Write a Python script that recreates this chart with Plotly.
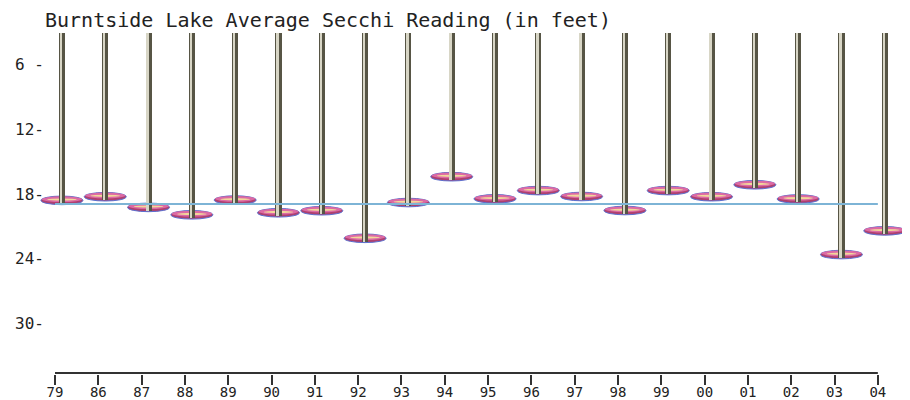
import plotly.graph_objects as go

# ---- data ----
years = ["79", "86", "87", "88", "89", "90", "91", "92", "93", "94",
         "95", "96", "97", "98", "99", "00", "01", "02", "03", "04"]
secchi_ft = [18.58, 18.24, 19.23, 19.92, 18.55, 19.73, 19.54, 22.10, 18.78, 16.38,
             18.44, 17.67, 18.22, 19.52, 17.67, 18.24, 17.13, 18.45, 23.61, 21.41]
average_ft = 18.92
y_tickvals = [6, 12, 18, 24, 30]
y_ticktext = ["6 -", "12-", "18-", "24-", "30-"]

# ---- styling constants ----
FONT = "DejaVu Sans Mono"
TICK_SHIFT = 0.16      # ticks sit a little left of the poles
DISC_HW = 0.485        # disc half width (category units)
DISC_HH = 0.40         # disc half height (feet)
X_START = -0.599
X_END = 19.49
Y_TOP = 3.04
Y_BOTTOM = 34.70
AXIS_Y = 34.61

idx = list(range(len(years)))

fig = go.Figure()

# poles (dark body + light highlight)
pole_len = [v + DISC_HH * 0.8 for v in secchi_ft]
fig.add_trace(go.Bar(x=idx, y=pole_len, base=0, width=0.14,
                     marker=dict(color="#575545", line=dict(width=0)),
                     hoverinfo="skip", showlegend=False))
fig.add_trace(go.Bar(x=idx, y=pole_len, base=0, width=0.045, offset=-0.04,
                     marker=dict(color="#d8d6c6", line=dict(width=0)),
                     hoverinfo="skip", showlegend=False))

# x axis baseline from first to last tick
fig.add_trace(go.Scatter(x=[idx[0] - TICK_SHIFT, idx[-1] - TICK_SHIFT],
                         y=[AXIS_Y, AXIS_Y], mode="lines",
                         line=dict(color="#333333", width=2),
                         hoverinfo="skip", showlegend=False))

shapes = []
for i, v in zip(idx, secchi_ft):
    # disc body
    shapes.append(dict(type="circle", xref="x", yref="y", layer="below",
                       x0=i - DISC_HW, x1=i + DISC_HW, y0=v - DISC_HH, y1=v + DISC_HH,
                       fillcolor="#b0406f", line=dict(color="#5a70d0", width=1)))
    # pink upper part
    shapes.append(dict(type="circle", xref="x", yref="y", layer="below",
                       x0=i - DISC_HW * 0.96, x1=i + DISC_HW * 0.96,
                       y0=v - DISC_HH * 0.95, y1=v + DISC_HH * 0.4,
                       fillcolor="#dc6aa4", line=dict(width=0)))
    # yellow highlight band
    shapes.append(dict(type="circle", xref="x", yref="y", layer="below",
                       x0=i - DISC_HW * 0.7, x1=i + DISC_HW * 0.7,
                       y0=v - DISC_HH * 0.45, y1=v + DISC_HH * 0.05,
                       fillcolor="#f2d79a", line=dict(width=0)))

# average line
shapes.append(dict(type="line", xref="x", yref="y", layer="above",
                   x0=idx[0] - TICK_SHIFT, x1=idx[-1] - TICK_SHIFT,
                   y0=average_ft, y1=average_ft,
                   line=dict(color="#7db4d6", width=2)))

fig.update_layout(
    width=902, height=392,
    margin=dict(l=28, r=4, t=25, b=26, autoexpand=False),
    paper_bgcolor="white", plot_bgcolor="white",
    barmode="overlay", bargap=0,
    showlegend=False,
    shapes=shapes,
    font=dict(family=FONT, color="#222222"),
    title=dict(text="Burntside Lake Average Secchi Reading (in feet)",
               font=dict(family=FONT, size=20, color="#222222"),
               xref="container", x=37 / 902, xanchor="left",
               yref="container", y=1 - 12 / 392, yanchor="middle"),
    xaxis=dict(range=[X_START, X_END], automargin=False,
               tickmode="array", tickvals=[i - TICK_SHIFT for i in idx], ticktext=years,
               ticks="outside", ticklen=10, tickwidth=2, tickcolor="#333333",
               ticklabelstandoff=-5,
               tickfont=dict(family=FONT, size=14, color="#222222"),
               showline=False, showgrid=False, zeroline=False),
    yaxis=dict(range=[Y_BOTTOM, Y_TOP], automargin=False,
               tickmode="array", tickvals=y_tickvals, ticktext=y_ticktext,
               ticks="", ticklabelstandoff=-9,
               tickfont=dict(family=FONT, size=16, color="#222222"),
               showline=False, showgrid=False, zeroline=False),
)

fig.write_html("out.html")
